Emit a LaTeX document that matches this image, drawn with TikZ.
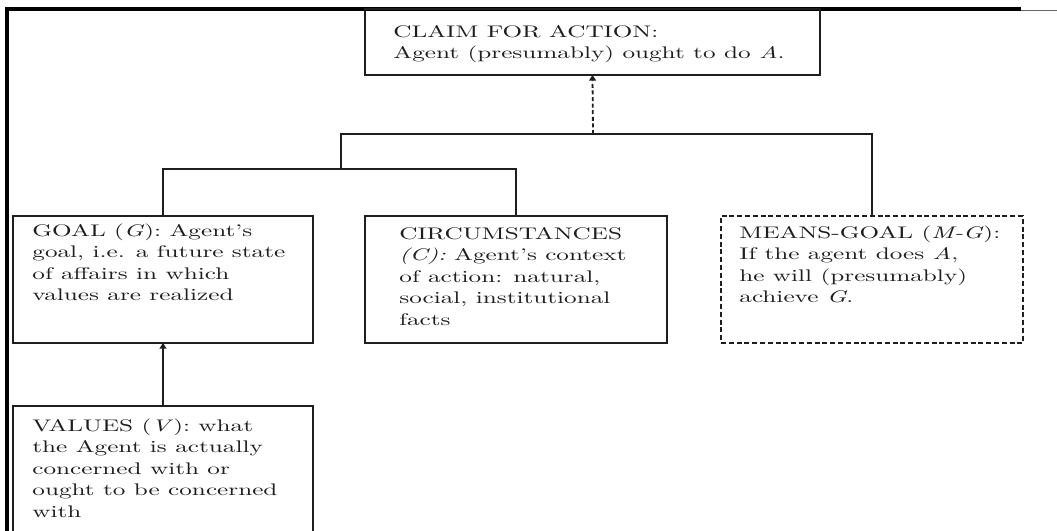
\documentclass[tikz,border=0pt]{standalone}
\usepackage{fontspec}
\setmainfont{lmroman10-regular.otf}[FakeStretch=1.5, ItalicFont=lmroman10-italic.otf, BoldFont=lmroman10-bold.otf]
\usetikzlibrary{arrows.meta}
\definecolor{ink}{HTML}{1E1E1E}
\begin{document}
\begin{tikzpicture}[x=0.5pt,y=-0.5pt,
  box/.style={draw=ink, line width=0.9pt, inner sep=0pt, outer sep=0pt},
  txt/.style={anchor=north west, inner sep=0pt, align=left, text=ink, font=\fontsize{8.4}{10.75}\selectfont},
  link/.style={draw=ink, line width=0.9pt},
  tip/.style={-{Triangle[length=2.8pt,width=3.4pt]}}]
\fill[white] (0,0) rectangle (1057,531);
\clip (0,0) rectangle (1057,531);
\useasboundingbox (0,0) rectangle (1057,531);
% frame
\draw[line width=1.6pt, black] (7,531) -- (7,9) -- (1021,9);
\draw[line width=0.5pt, black!60] (1021,10) -- (1057,10);
% boxes
\node[box, minimum width=227.5pt, minimum height=33pt] (claim) at (592.5,42) {};
\node[box, minimum width=150pt, minimum height=63.5pt] (goal) at (163,279.5) {};
\node[box, minimum width=151pt, minimum height=63.5pt] (circ) at (516,279.5) {};
\node[box, dash pattern=on 2.5pt off 1.4pt, minimum width=151pt, minimum height=63.5pt] (mg) at (872,279.5) {};
\node[box, minimum width=150pt, minimum height=70pt] (values) at (163,476) {};
% texts
\node[txt] (claimT) at (393,22) {\strut CLAIM FOR ACTION:\\Agent (presumably) ought to do \textit{A}.};
\node[txt] (goalT) at (32,221) {\strut GOAL (\textit{G}): Agent's\\goal, i.e. a future state\\of affairs in which\\values are realized};
\node[txt] (circT) at (399,224) {\strut CIRCUMSTANCES\\\textit{(C):} Agent's context\\of action: natural,\\social, institutional\\facts};
\node[txt] (mgT) at (739,223) {\strut MEANS-GOAL (\textit{M-G}):\\If the agent does \textit{A},\\he will (presumably)\\achieve \textit{G}.};
\node[txt] (valuesT) at (32,416) {\strut VALUES (\textit{V}): what\\the Agent is actually\\concerned with or\\ought to be concerned\\with};
% connectors
\coordinate (j1) at (341,169);
\coordinate (j2) at (593,134);
\draw[link] (goal.north) |- (j1) -| (circ.north);
\draw[link] (j1) |- (j2) -| (mg.north);
\draw[link, tip, dash pattern=on 2pt off 1.3pt] (j2) -- (claim.south);
\draw[link, tip] (values.north) -- (goal.south);
\end{tikzpicture}
\end{document}
